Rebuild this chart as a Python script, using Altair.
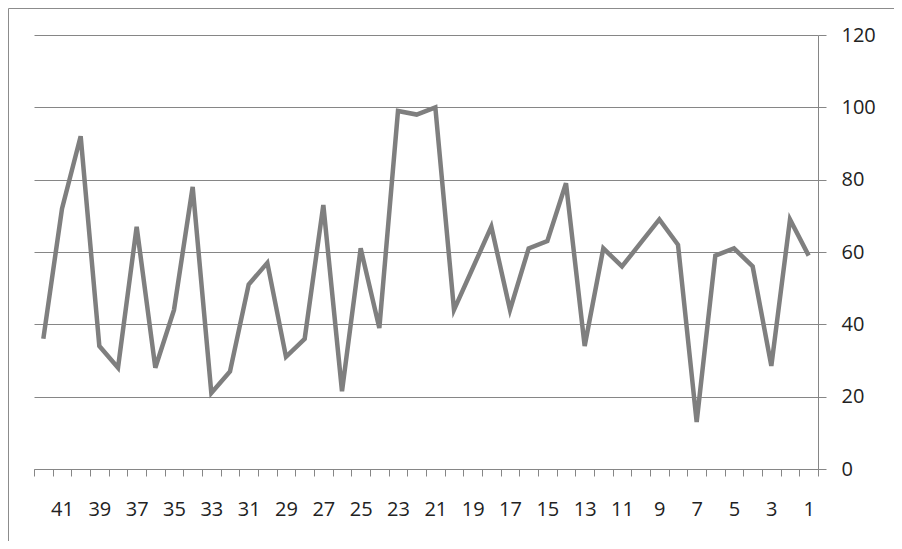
import altair as alt
import pandas as pd

categories = [42, 41, 40, 39, 38, 37, 36, 35, 34, 33, 32, 31, 30, 29, 28, 27, 26, 25, 24, 23, 22,
              21, 20, 19, 18, 17, 16, 15, 14, 13, 12, 11, 10, 9, 8, 7, 6, 5, 4, 3, 2, 1]
values = [36, 72, 92, 34, 28, 67, 28, 44, 78, 21, 27, 51, 57, 31, 36, 73, 21.5, 61, 39, 99, 98,
          100, 44, 55.5, 67, 44, 61, 63, 79, 34, 61, 56, 62.5, 69, 62, 13, 59, 61, 56, 28.5, 69, 59]
y_ticks = [0, 20, 40, 60, 80, 100, 120]

df = pd.DataFrame({"cat": categories, "val": values})

W, H = 784, 434
PAD_L, PAD_T = 26, 27
AX = "#868686"
FONT = "Open Sans"

line = alt.Chart(df).mark_line(color="#7f7f7f", strokeWidth=4.5, strokeJoin="miter").encode(
    x=alt.X(
        "cat:O",
        sort=categories,
        scale=alt.Scale(type="band", paddingInner=0, paddingOuter=0),
        axis=alt.Axis(
            title=None,
            orient="bottom",
            grid=False,
            domainColor=AX,
            domainWidth=1,
            tickColor=AX,
            tickSize=7,
            tickBand="extent",
            labelAngle=0,
            labelOverlap=False,
            labelExpr="datum.value % 2 == 1 ? datum.label : ''",
            labelPadding=23,
            labelFont=FONT,
            labelFontSize=20,
            labelColor="#222222",
        ),
    ),
    y=alt.Y(
        "val:Q",
        scale=alt.Scale(domain=[0, 120], nice=False, zero=True),
        axis=alt.Axis(
            title=None,
            orient="right",
            values=y_ticks,
            grid=True,
            gridColor=AX,
            gridWidth=1,
            domainColor=AX,
            tickColor=AX,
            tickSize=8,
            labelPadding=15,
            labelFont=FONT,
            labelFontSize=20,
            labelColor="#222222",
            labelBaseline="middle",
        ),
    ),
)

frame = alt.Chart(alt.Data(values=[{}])).mark_rect(
    fill=None, stroke="#8c8c8c", strokeWidth=1
).encode(
    x=alt.value(-25.5),
    x2=alt.value(W + 300),
    y=alt.value(-26.5),
    y2=alt.value(H + 300),
)

chart = alt.layer(frame, line).properties(
    width=W,
    height=H,
    padding={"left": PAD_L, "top": PAD_T, "right": 76, "bottom": 72},
    autosize=alt.AutoSizeParams(type="none"),
    background="white",
).configure_view(stroke=None)

chart.save("out.html", embed_options={"renderer": "svg", "actions": False})
